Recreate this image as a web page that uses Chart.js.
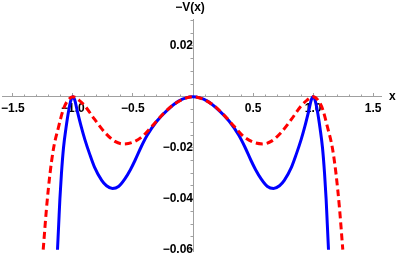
<!DOCTYPE html>
<html>
<head>
<meta charset="utf-8">
<script src="https://cdn.jsdelivr.net/npm/chart.js@4"></script>
<style>
  html, body { margin: 0; padding: 0; background: #fff; }
  #wrap { width: 397px; height: 256px; }
</style>
</head>
<body>
<div id="wrap"><canvas id="chart" width="397" height="256"></canvas></div>
<script>
// values
const blueX = [-1.128, -1.118, -1.108, -1.095, -1.078, -1.058, -1.035, -1.015, -1.0, -0.985, -0.964, -0.93, -0.90, -0.86, -0.82, -0.76, -0.72, -0.67, -0.62, -0.567, -0.52, -0.483, -0.43, -0.38, -0.30, -0.22, -0.12, 0,
  0.12, 0.22, 0.30, 0.38, 0.43, 0.483, 0.52, 0.567, 0.62, 0.67, 0.72, 0.76, 0.82, 0.86, 0.90, 0.93, 0.964, 0.985, 1.0, 1.015, 1.035, 1.058, 1.078, 1.095, 1.108, 1.118, 1.128];
const blueY = [-0.060, -0.050, -0.040, -0.030, -0.020, -0.0125, -0.0055, -0.0012, 0, -0.0012, -0.0054, -0.0118, -0.0168, -0.0225, -0.0276, -0.0328, -0.0349, -0.0360, -0.0352, -0.0322, -0.0285, -0.025, -0.0195, -0.015, -0.0095, -0.0055, -0.0017, 0,
  -0.0017, -0.0055, -0.0095, -0.015, -0.0195, -0.025, -0.0285, -0.0322, -0.0352, -0.0360, -0.0349, -0.0328, -0.0276, -0.0225, -0.0168, -0.0118, -0.0054, -0.0012, 0, -0.0012, -0.0055, -0.0125, -0.020, -0.030, -0.040, -0.050, -0.060];

const redX = [-1.247, -1.22, -1.19, -1.16, -1.12, -1.08, -1.04, -1.0, -0.95, -0.90, -0.82, -0.73, -0.65, -0.58, -0.50, -0.42, -0.35, -0.25, -0.15, 0,
  0.15, 0.25, 0.35, 0.42, 0.50, 0.58, 0.65, 0.73, 0.82, 0.90, 0.95, 1.0, 1.04, 1.08, 1.12, 1.16, 1.19, 1.22, 1.247];
const redY = [-0.060, -0.044, -0.030, -0.020, -0.012, -0.005, -0.0013, 0, -0.0013, -0.0036, -0.0088, -0.0142, -0.0175, -0.0185, -0.0178, -0.0155, -0.012, -0.0068, -0.0027, 0,
  -0.0027, -0.0068, -0.012, -0.0155, -0.0178, -0.0185, -0.0175, -0.0142, -0.0088, -0.0036, -0.0013, 0, -0.0013, -0.005, -0.012, -0.020, -0.030, -0.044, -0.060];

const xTickValues = [-1.5, -1, -0.5, 0.5, 1, 1.5];
const xTickLabels = ['\u22121.5', '\u22121.0', '\u22120.5', '0.5', '1.0', '1.5'];
const yTickValues = [0.02, -0.02, -0.04, -0.06];
const yTickLabels = ['0.02', '\u22120.02', '\u22120.04', '\u22120.06'];

const xRange = [-1.59, 1.565];
const yRange = [-0.0605, 0.0305];

const toPoints = (xs, ys) => xs.map((x, i) => ({ x: x, y: ys[i] }));
const pickLabel = (vals, labels) => v => {
    const i = vals.findIndex(t => Math.abs(t - v) < 1e-6);
    return i < 0 ? '' : labels[i];
};
// the axes cross inside the plot, so label overhang must not shrink the area
const noOverhang = s => { s.paddingLeft = 0; s.paddingRight = 0; s.paddingTop = 0; s.paddingBottom = 0; };

const labelFont = { family: '"Liberation Sans", Arial, sans-serif', size: 12, weight: 'bold' };
const axisGray = '#a0a0a0';

const axisTitles = {
    id: 'axisTitles',
    afterDraw(chart) {
        const c = chart.ctx;
        const xs = chart.scales.x;
        const ys = chart.scales.y;
        c.save();
        c.fillStyle = '#000';
        c.font = 'bold 12px "Liberation Sans", Arial, sans-serif';
        c.textBaseline = 'middle';
        c.textAlign = 'center';
        c.fillText('\u2212V(x)', xs.getPixelForValue(0) - 3, 8);
        c.textAlign = 'left';
        c.fillText('x', xs.right + 8, ys.getPixelForValue(0));
        c.restore();
    }
};

const ctx = document.getElementById('chart').getContext('2d');
new Chart(ctx, {
    type: 'scatter',
    data: {
        datasets: [{
            data: toPoints(redX, redY),
            showLine: true,
            borderColor: '#ff0000',
            borderWidth: 3,
            borderDash: [7, 4],
            pointRadius: 0,
            cubicInterpolationMode: 'monotone'
        }, {
            data: toPoints(blueX, blueY),
            showLine: true,
            borderColor: '#0000ff',
            borderWidth: 3,
            pointRadius: 0,
            cubicInterpolationMode: 'monotone'
        }]
    },
    options: {
        responsive: false,
        animation: false,
        layout: { padding: { left: 2, right: 16, top: 19, bottom: 5 } },
        plugins: { legend: { display: false }, tooltip: { enabled: false } },
        scales: {
            x: {
                type: 'linear',
                position: { y: 0 },
                min: xRange[0],
                max: xRange[1],
                afterFit: noOverhang,
                border: { color: axisGray, width: 1 },
                grid: { drawOnChartArea: false, drawTicks: true, tickLength: -4, color: axisGray },
                ticks: {
                    stepSize: 0.5,
                    includeBounds: false,
                    padding: 9,
                    maxRotation: 0,
                    autoSkip: false,
                    color: '#000',
                    font: labelFont,
                    callback: pickLabel(xTickValues, xTickLabels)
                }
            },
            xMinor: {
                type: 'linear',
                axis: 'x',
                position: { y: 0 },
                min: xRange[0],
                max: xRange[1],
                afterFit: noOverhang,
                border: { display: false },
                grid: { drawOnChartArea: false, drawTicks: true, tickLength: -2.5, color: axisGray },
                ticks: { stepSize: 0.1, includeBounds: false, autoSkip: false, callback: () => '' }
            },
            y: {
                type: 'linear',
                position: { x: 0 },
                min: yRange[0],
                max: yRange[1],
                afterFit: noOverhang,
                border: { color: axisGray, width: 1 },
                grid: { drawOnChartArea: false, drawTicks: true, tickLength: 4, color: axisGray },
                ticks: {
                    stepSize: 0.02,
                    includeBounds: false,
                    padding: 0,
                    autoSkip: false,
                    color: '#000',
                    font: labelFont,
                    callback: pickLabel(yTickValues, yTickLabels)
                }
            },
            yMinor: {
                type: 'linear',
                axis: 'y',
                position: { x: 0 },
                min: yRange[0],
                max: yRange[1],
                afterFit: noOverhang,
                border: { display: false },
                grid: { drawOnChartArea: false, drawTicks: true, tickLength: 2.5, color: axisGray },
                ticks: { stepSize: 0.005, includeBounds: false, autoSkip: false, callback: () => '' }
            }
        }
    },
    plugins: [axisTitles]
});
</script>
</body>
</html>
